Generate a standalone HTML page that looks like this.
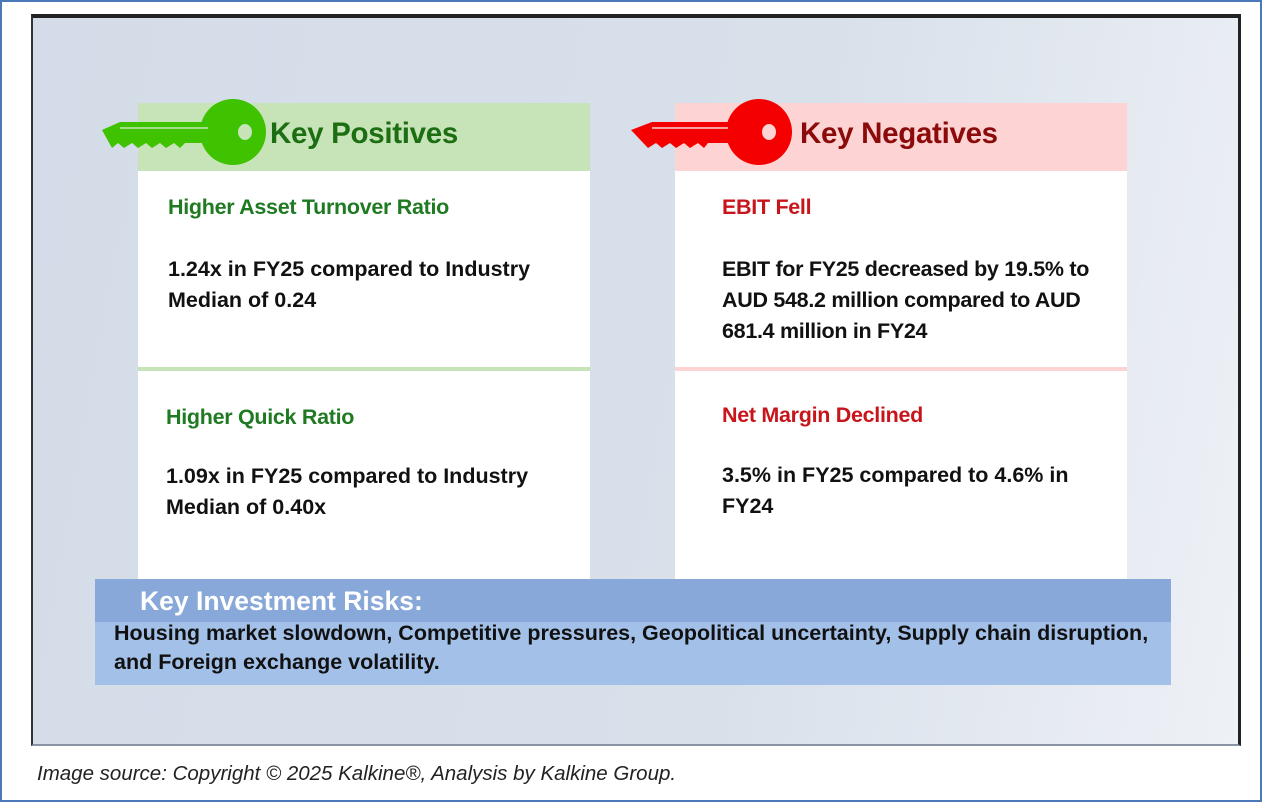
<!DOCTYPE html>
<html><head><meta charset="utf-8"><style>
*{margin:0;padding:0;box-sizing:border-box}
body{width:1262px;height:802px;background:#fff;position:relative;overflow:hidden;font-family:"Liberation Sans",sans-serif}
.abs{position:absolute;white-space:nowrap}
#outer{left:0;top:0;width:1262px;height:802px;border:2px solid #4a78b8}
#frame{left:31px;top:14px;width:1210px;height:732px;border-top:4px solid #222;border-right:3px solid #222;border-left:2px solid #333;border-bottom:2px solid #8a94a4;background:linear-gradient(100deg,#d3dce8 0%,#d8e0ea 60%,#eef1f6 100%)}
.card{background:#fff;width:452px}
.hdr{height:68px}
.t{font-weight:bold;font-size:21.5px;color:#1f7a22;letter-spacing:-0.3px}
.b{font-weight:bold;font-size:21.5px;color:#111;line-height:31px;letter-spacing:0}
.h{font-weight:bold;font-size:29.5px;letter-spacing:-0.3px}
</style></head><body>
<div id="outer" class="abs"></div>
<div id="frame" class="abs"></div>

<div class="abs card" style="left:138px;top:103px;height:476px"></div>
<div class="abs hdr" style="left:138px;top:103px;width:452px;background:#c6e4b8"></div>
<div class="abs" style="left:138px;top:367px;width:452px;height:4px;background:#c6e4b8"></div>
<svg class="abs" style="left:80px;top:98px" width="200" height="72">
<path d="M22 32 L40 24 L130 24 L130 45 L105 45 L100 50 L94 45 L86 50 L80 45 L72 50 L66 45 L58 50 L52 45 L44 50 L38 45 L32 50 Z" fill="#3fc200"/>
<circle cx="153" cy="34" r="33" fill="#3fc200"/>
<ellipse cx="165" cy="34" rx="7" ry="8" fill="#c6e4b8"/>
<line x1="40" y1="30" x2="128" y2="30" stroke="#c6e4b8" stroke-width="1.5"/>
</svg>
<div class="abs h" style="left:270px;top:117px;color:#1d6e12">Key Positives</div>
<div class="abs t" style="left:168px;top:195px">Higher Asset Turnover Ratio</div>
<div class="abs b" style="left:168px;top:254px">1.24x in FY25 compared to Industry<br>Median of 0.24</div>
<div class="abs t" style="left:166px;top:405px">Higher Quick Ratio</div>
<div class="abs b" style="left:166px;top:461px">1.09x in FY25 compared to Industry<br>Median of 0.40x</div>

<div class="abs card" style="left:675px;top:103px;height:476px"></div>
<div class="abs hdr" style="left:675px;top:103px;width:452px;background:#fdd3d3"></div>
<div class="abs" style="left:675px;top:367px;width:452px;height:4px;background:#fdd3d3"></div>
<svg class="abs" style="left:628px;top:98px" width="200" height="72">
<path d="M3 32 L24 24 L100 24 L100 45 L80 45 L76 50 L70 45 L62 50 L56 45 L48 50 L42 45 L34 50 L28 45 L20 50 Z" fill="#f40000"/>
<circle cx="131" cy="34" r="33" fill="#f40000"/>
<ellipse cx="141" cy="34" rx="7" ry="8" fill="#fdd3d3"/>
<line x1="24" y1="30" x2="100" y2="30" stroke="#fdd3d3" stroke-width="1.5"/>
</svg>
<div class="abs h" style="left:800px;top:117px;color:#8b0a0a">Key Negatives</div>
<div class="abs t" style="left:722px;top:195px;color:#c8151b">EBIT Fell</div>
<div class="abs b" style="left:722px;top:254px;letter-spacing:-0.3px">EBIT for FY25 decreased by 19.5% to<br>AUD 548.2 million compared to AUD<br>681.4 million in FY24</div>
<div class="abs t" style="left:722px;top:403px;color:#c8151b">Net Margin Declined</div>
<div class="abs b" style="left:722px;top:460px">3.5% in FY25 compared to 4.6% in<br>FY24</div>

<div class="abs" style="left:95px;top:579px;width:1076px;height:106px;background:#a3c0e8"></div>
<div class="abs" style="left:95px;top:579px;width:1076px;height:43px;background:#87a8d8"></div>
<div class="abs" style="left:140px;top:586px;color:#fff;font-weight:bold;font-size:26.5px">Key Investment Risks:</div>
<div class="abs b" style="left:114px;top:619px;font-size:21.5px;line-height:29px;letter-spacing:0">Housing market slowdown, Competitive pressures, Geopolitical uncertainty, Supply chain disruption,<br>and Foreign exchange volatility.</div>

<div class="abs" style="left:37px;top:762px;font-style:italic;font-size:20.5px;color:#222">Image source: Copyright © 2025 Kalkine®, Analysis by Kalkine Group.</div>
</body></html>
